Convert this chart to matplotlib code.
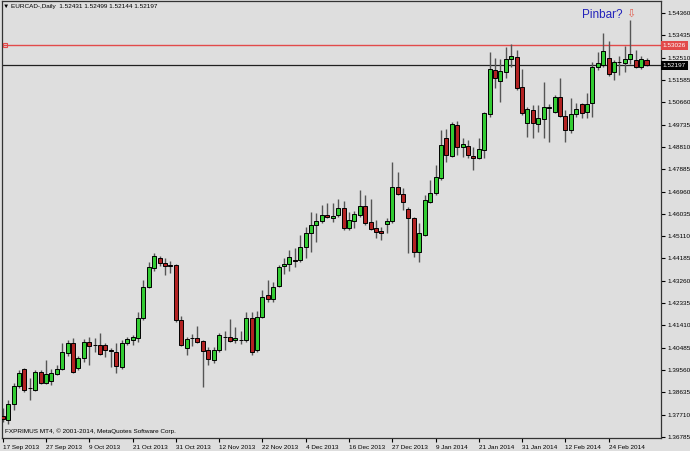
import numpy as np
import matplotlib
matplotlib.use('Agg')
import matplotlib.pyplot as plt

plt.rcParams['font.family'] = ['Liberation Sans', 'DejaVu Sans']

# EURCAD daily candles, 17 Sep 2013 .. 5 Mar 2014
opens = [1.3766, 1.3749, 1.3815, 1.3890, 1.3960, 1.3880, 1.3873, 1.3948, 1.3902, 1.3911,
         1.3940, 1.3960, 1.4027, 1.4068, 1.3965, 1.4006, 1.4072, 1.4058, 1.4060, 1.4060,
         1.4039, 1.4031, 1.3969, 1.4068, 1.4081, 1.4089, 1.4172, 1.4300, 1.4379, 1.4420,
         1.4400, 1.4392, 1.4392, 1.4164, 1.4047, 1.4087, 1.4089, 1.4076, 1.4039, 1.3998,
         1.4039, 1.4091, 1.4093, 1.4081, 1.4079, 1.4081, 1.4172, 1.4039, 1.4176, 1.4267,
         1.4251, 1.4304, 1.4387, 1.4396, 1.4412, 1.4412, 1.4466, 1.4524, 1.4557, 1.4574,
         1.4599, 1.4588, 1.4599, 1.4628, 1.4545, 1.4574, 1.4599, 1.4636, 1.4570, 1.4545,
         1.4532, 1.4561, 1.4574, 1.4715, 1.4686, 1.4624, 1.4586, 1.4445, 1.4516, 1.4653,
         1.4690, 1.4752, 1.4918, 1.4843, 1.4972, 1.4881, 1.4885, 1.4843, 1.4835, 1.4868,
         1.5017, 1.5200, 1.5154, 1.5192, 1.5245, 1.5254, 1.5129, 1.4980, 1.5034, 1.4976,
         1.4997, 1.5044, 1.5026, 1.5088, 1.5009, 1.4951, 1.5017, 1.5059, 1.5026, 1.5063,
         1.5212, 1.5221, 1.5249, 1.5192, 1.5231, 1.5229, 1.5245, 1.5241, 1.5212, 1.52431]
highs = [1.3799, 1.3832, 1.3902, 1.3956, 1.3965, 1.3923, 1.3956, 1.3956, 1.3998, 1.3960,
         1.3977, 1.4068, 1.4081, 1.4089, 1.4014, 1.4085, 1.4093, 1.4089, 1.4110, 1.4068,
         1.4047, 1.4068, 1.4081, 1.4093, 1.4101, 1.4197, 1.4329, 1.4404, 1.4441, 1.4429,
         1.4420, 1.4408, 1.4396, 1.4180, 1.4093, 1.4105, 1.4139, 1.4081, 1.4052, 1.4052,
         1.4110, 1.4118, 1.4168, 1.4135, 1.4118, 1.4197, 1.4197, 1.4201, 1.4288, 1.4329,
         1.4321, 1.4392, 1.4420, 1.4454, 1.4462, 1.4516, 1.4549, 1.4611, 1.4607, 1.4640,
         1.4648, 1.4648, 1.4665, 1.4657, 1.4611, 1.4615, 1.4702, 1.4682, 1.4665, 1.4578,
         1.4549, 1.4586, 1.4818, 1.4777, 1.4711, 1.4632, 1.4590, 1.4566, 1.4682, 1.4744,
         1.4806, 1.4951, 1.4955, 1.4984, 1.4988, 1.4918, 1.4910, 1.4881, 1.4918, 1.5026,
         1.5274, 1.5249, 1.5245, 1.5295, 1.5308, 1.5283, 1.5204, 1.5046, 1.5055, 1.5055,
         1.5150, 1.5059, 1.5096, 1.5167, 1.5034, 1.5084, 1.5063, 1.5063, 1.5104, 1.5233,
         1.5274, 1.5353, 1.5320, 1.5241, 1.5258, 1.5299, 1.5407, 1.5283, 1.5258, 1.52499]
lows = [1.3741, 1.3732, 1.3790, 1.3882, 1.3865, 1.3832, 1.3869, 1.3898, 1.3898, 1.3894,
        1.3936, 1.3956, 1.4014, 1.3944, 1.3956, 1.3989, 1.3977, 1.4031, 1.4018, 1.4010,
        1.3969, 1.3944, 1.3960, 1.4060, 1.4060, 1.4072, 1.4164, 1.4296, 1.4367, 1.4387,
        1.4350, 1.4358, 1.4155, 1.4056, 1.4018, 1.4056, 1.4068, 1.3886, 1.3977, 1.3985,
        1.4031, 1.4039, 1.4072, 1.4068, 1.4064, 1.4072, 1.4018, 1.4031, 1.4172, 1.4238,
        1.4238, 1.4300, 1.4354, 1.4367, 1.4383, 1.4404, 1.4420, 1.4445, 1.4487, 1.4566,
        1.4586, 1.4570, 1.4590, 1.4537, 1.4537, 1.4545, 1.4590, 1.4557, 1.4537, 1.4503,
        1.4495, 1.4524, 1.4566, 1.4682, 1.4619, 1.4441, 1.4425, 1.4404, 1.4512, 1.4648,
        1.4682, 1.4744, 1.4818, 1.4839, 1.4847, 1.4839, 1.4835, 1.4785, 1.4831, 1.4835,
        1.5005, 1.5125, 1.5067, 1.5167, 1.5212, 1.5117, 1.5013, 1.4922, 1.4918, 1.4943,
        1.4918, 1.4901, 1.5022, 1.5005, 1.4901, 1.4939, 1.5005, 1.5001, 1.5001, 1.5005,
        1.5200, 1.5212, 1.5175, 1.5158, 1.5179, 1.5192, 1.5225, 1.5208, 1.5204, 1.52144]
closes = [1.3753, 1.3815, 1.3890, 1.3944, 1.3873, 1.3882, 1.3948, 1.3902, 1.3940, 1.3944,
          1.3960, 1.4031, 1.4068, 1.3948, 1.4006, 1.4072, 1.4056, 1.4060, 1.4023, 1.4039,
          1.4037, 1.3973, 1.4068, 1.4085, 1.4093, 1.4172, 1.4300, 1.4383, 1.4429, 1.4400,
          1.4387, 1.4389, 1.4164, 1.4060, 1.4085, 1.4089, 1.4072, 1.4035, 1.4002, 1.4039,
          1.4101, 1.4093, 1.4076, 1.4089, 1.4081, 1.4172, 1.4031, 1.4176, 1.4259, 1.4251,
          1.4300, 1.4383, 1.4396, 1.4425, 1.4410, 1.4466, 1.4524, 1.4557, 1.4574, 1.4599,
          1.4590, 1.4595, 1.4628, 1.4545, 1.4578, 1.4603, 1.4636, 1.4566, 1.4541, 1.4528,
          1.4524, 1.4574, 1.4715, 1.4686, 1.4653, 1.4586, 1.4445, 1.4524, 1.4661, 1.4690,
          1.4756, 1.4889, 1.4847, 1.4976, 1.4881, 1.4893, 1.4847, 1.4835, 1.4872, 1.5022,
          1.5204, 1.5167, 1.5196, 1.5245, 1.5258, 1.5125, 1.5022, 1.5038, 1.4980, 1.5001,
          1.5046, 1.5046, 1.5088, 1.5009, 1.4951, 1.5017, 1.5038, 1.5022, 1.5059, 1.5212,
          1.5229, 1.5278, 1.5183, 1.5233, 1.5233, 1.5245, 1.5266, 1.5212, 1.5245, 1.52197]

date_labels = ['17 Sep 2013', '27 Sep 2013', '9 Oct 2013', '21 Oct 2013', '31 Oct 2013',
               '12 Nov 2013', '22 Nov 2013', '4 Dec 2013', '16 Dec 2013', '27 Dec 2013',
               '9 Jan 2014', '21 Jan 2014', '31 Jan 2014', '12 Feb 2014', '24 Feb 2014']
label_every = 8
price_ticks = [1.36785, 1.37710, 1.38635, 1.39560, 1.40485, 1.41410, 1.42335, 1.43260,
               1.44185, 1.45110, 1.46035, 1.46960, 1.47885, 1.48810, 1.49735, 1.50660,
               1.51585, 1.52510, 1.53435, 1.54360]
level_line = 1.53026
last_price = 1.52197

bg = '#dedede'
bull = '#33cc33'
bear = '#b22222'
fs = 4.6

fig = plt.figure(figsize=(6.9, 4.51), dpi=100, facecolor=bg)
ax = fig.add_axes([2 / 690, 13 / 451, 659 / 690, 437 / 451], facecolor=bg)

o = np.array(opens)
h = np.array(highs)
l = np.array(lows)
c = np.array(closes)
x = np.arange(len(o))
up = c >= o

# wicks
ax.vlines(x, l, h, color='#555555', lw=1, zorder=2)
# bodies
bottom = np.minimum(o, c)
height = np.maximum(np.abs(c - o), 0.00002)
ax.bar(x[up], height[up], bottom=bottom[up], width=0.74, color=bull,
       edgecolor='black', lw=0.7, zorder=3)
ax.bar(x[~up], height[~up], bottom=bottom[~up], width=0.74, color=bear,
       edgecolor='black', lw=0.7, zorder=3)

# horizontal lines
ax.axhline(level_line, color='#e24a4a', lw=1, zorder=1)
ax.plot([0.004], [level_line], marker='s', ms=3, mfc='none', mec='#e24a4a',
        mew=0.8, transform=ax.get_yaxis_transform(), zorder=4, clip_on=False)
ax.axhline(last_price, color='#202020', lw=0.9, zorder=1)

ax.set_xlim(-0.13, 121.68)
ax.set_ylim(1.36743, 1.54858)

ax.yaxis.tick_right()
ax.set_yticks(price_ticks)
ax.set_yticklabels(['%.5f' % p for p in price_ticks], fontsize=fs)
ax.tick_params(axis='y', length=3, width=0.8, pad=1.5, colors='black')

ax.set_xticks(np.arange(len(date_labels)) * label_every)
ax.set_xticklabels(date_labels, fontsize=fs, ha='left')
ax.tick_params(axis='x', length=3, width=0.8, pad=2)

for s in ax.spines.values():
    s.set_color('#333333')
    s.set_linewidth(0.9)

# price boxes on the right axis
ax.text(1.003, level_line, '1.53026', transform=ax.get_yaxis_transform(),
        fontsize=fs, color='white', va='center', ha='left',
        bbox=dict(boxstyle='square,pad=0.3', fc='#e24a4a', ec='none'), clip_on=False)
ax.text(1.003, last_price, '1.52197', transform=ax.get_yaxis_transform(),
        fontsize=fs, color='white', va='center', ha='left',
        bbox=dict(boxstyle='square,pad=0.3', fc='black', ec='none'), clip_on=False)

ax.text(0.002, 0.994, '\u25bc EURCAD-,Daily  1.52431 1.52499 1.52144 1.52197',
        transform=ax.transAxes, fontsize=fs, va='top', ha='left')
ax.text(0.004, 0.01, 'FXPRIMUS MT4, \u00a9 2001-2014, MetaQuotes Software Corp.',
        transform=ax.transAxes, fontsize=fs, va='bottom', ha='left')

ax.text(107.1, 1.5428, 'Pinbar?', fontsize=8.5, color='#2222bb', va='center', ha='left')
ax.text(115.3, 1.5432, '\u21e9', fontsize=8, color='#e06050', va='center', ha='left',
        family='DejaVu Sans')

fig.savefig('out.png', dpi=100, facecolor=bg)
